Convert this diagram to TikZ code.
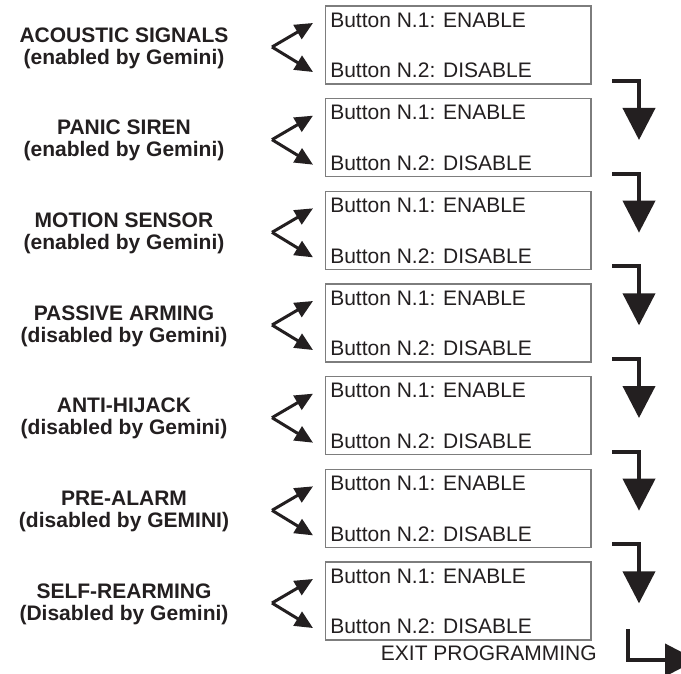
\documentclass[tikz,border=0pt]{standalone}
\usepackage{fontspec}
\setmainfont{Liberation Sans}
\usetikzlibrary{arrows.meta}
\definecolor{mtext}{RGB}{35,31,32}
\definecolor{mbox}{RGB}{125,125,125}

\begin{document}
\begin{tikzpicture}[x=0.5pt,y=-0.5pt,
  lbl/.style={align=center,inner sep=0pt,text=mtext,font=\fontsize{10.5}{11}\selectfont\bfseries},
  btn/.style={anchor=base west,inner sep=0pt,text=mtext,font=\fontsize{10.5}{12}\selectfont},
  panel/.style={draw=mbox,line width=0.8pt,minimum width=132.75pt,minimum height=39pt,inner sep=0pt},
  chev/.style={mtext,line width=1.5pt,-{Triangle[length=9pt,width=8pt]}},
  nextarr/.style={mtext,line width=2pt,-{Triangle[length=16pt,width=16pt]}}]
  \clip (0,0) rectangle (681,674);
  \fill[white] (0,0) rectangle (681,674);
  \foreach \lbl/\st [count=\i from 0] in {%
      ACOUSTIC SIGNALS/(enabled by Gemini),
      PANIC SIREN/(enabled by Gemini),
      MOTION SENSOR/(enabled by Gemini),
      PASSIVE ARMING/(disabled by Gemini),
      ANTI-HIJACK/(disabled by Gemini),
      PRE-ALARM/(disabled by GEMINI),
      SELF-REARMING/(Disabled by Gemini)}{
    \pgfmathsetmacro\c{45+92.67*\i}
    \node[lbl] (lbl\i) at (124,\c+3) {\lbl\\\st};
    \node[panel] (box\i) at (458.25,\c) {};
    \node[btn] (en\i) at ([xshift=2.6pt,yshift=-11pt]box\i.north west) {Button N.1: ENABLE};
    \node[btn] (dis\i) at ([xshift=2.6pt,yshift=3.5pt]box\i.south west) {Button N.2: DISABLE};
    % two way choice
    \coordinate (v\i) at (272,\c+2);
    \coordinate (up\i) at (313,\c-22);
    \coordinate (dn\i) at (313,\c+27);
    \draw[chev] (v\i) -- (up\i);
    \draw[chev] (v\i) -- (dn\i);
  }
  % on to next item
  \foreach \i in {0,...,5}{
    \pgfmathsetmacro\t{6+92.67*\i}
    \coordinate (s\i) at (612,\t+75);
    \coordinate (e\i) at (639,\t+134);
    \draw[nextarr] (s\i) -| (e\i);
  }
  \node[btn] (exit) at (380.5,660) {EXIT PROGRAMMING};
  \coordinate (xs) at (628,629);
  \coordinate (xe) at (697,660);
  \draw[nextarr] (xs) |- (xe);
\end{tikzpicture}
\end{document}
